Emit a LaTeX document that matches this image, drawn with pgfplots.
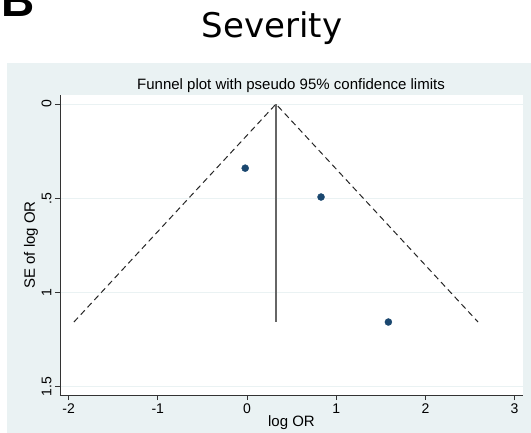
\documentclass[border=0pt]{standalone}
\usepackage{pgfplots}
\pgfplotsset{compat=1.18}
\usepackage{fontspec}
\setmainfont{Liberation Sans}
\newfontfamily\dejavu{DejaVu Sans}
\definecolor{stbg}{HTML}{EAF2F3}
\definecolor{stnavy}{HTML}{1A476F}
\definecolor{stgrid}{HTML}{EAF2F3}

\begin{document}
\begin{tikzpicture}
\useasboundingbox (0pt,0pt) rectangle (531pt,-433pt);
\fill[stbg] (7pt,-63pt) rectangle (531pt,-433pt);
% panel letter, cut at the top edge
\node[font=\bfseries\fontsize{46}{46}\selectfont, anchor=base east, inner sep=0pt] at (35pt,-17pt) {B};
\node[font=\dejavu\fontsize{34}{34}\selectfont, anchor=base, inner sep=0pt] at (272pt,-38pt) {Severity};
\node[font=\fontsize{15}{15}\selectfont, anchor=base, inner sep=0pt] at (291pt,-90pt) {Funnel plot with pseudo 95\% confidence limits};
\begin{axis}[
at={(60pt,-395pt)},
anchor=south west,
scale only axis,
width=463pt,
height=300pt,
xmin=-2.096, xmax=3.094,
ymin=-0.048, ymax=1.543,
y dir=reverse,
axis background/.style={fill=white},
axis lines*=left,
axis line style={black!80, line width=0.8pt},
tick align=outside,
major tick length=5pt,
tick style={black!80, line width=0.8pt},
xtick={-2,-1,0,1,2,3},
xticklabels={-2,-1,0,1,2,3},
ytick={0,0.5,1,1.5},
yticklabels={0,.5,1,1.5},
ymajorgrids=true,
major grid style={stgrid, line width=0.8pt},
tick label style={font=\fontsize{14}{14}\selectfont},
yticklabel style={rotate=90, anchor=south},
xlabel={log OR},
ylabel={SE of log OR},
label style={font=\fontsize{15}{15}\selectfont},
xlabel style={at={(axis description cs:0.5,-0.093)}, anchor=center},
ylabel style={at={(axis description cs:-0.0626,0.5)}, anchor=center},
clip=false
]
% pseudo 95% limits
\addplot[black!85, dash pattern=on 6pt off 4pt, line width=1pt] coordinates {
(-1.94,1.156) (0.325,0) (2.59,1.156)
};
% pooled estimate
\addplot[black!60, line width=1.8pt] coordinates {(0.325,0) (0.325,1.156)};
\addplot[only marks, mark=*, mark size=3.5pt, draw=stnavy, fill=stnavy] coordinates {
(-0.02,0.34)
(0.83,0.493)
(1.585,1.156)
};
\end{axis}
\end{tikzpicture}
\end{document}
